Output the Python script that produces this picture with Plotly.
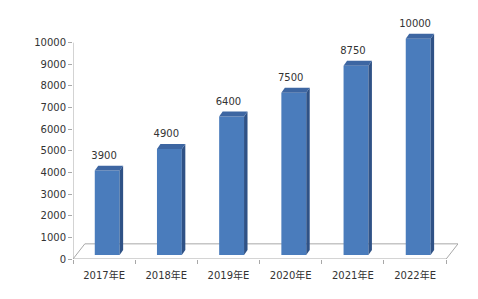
import plotly.graph_objects as go

categories = ["2017年E", "2018年E", "2019年E", "2020年E", "2021年E", "2022年E"]
values = [3900, 4900, 6400, 7500, 8750, 10000]
y_ticks = [0, 1000, 2000, 3000, 4000, 5000, 6000, 7000, 8000, 9000, 10000]

FRONT = "#4A7CBC"
TOP = "#3D66A2"
SIDE = "#2F5286"
GRID = "#A8A8A8"
TXT = "#333333"

# geometry (data units)
bar_w = 0.40
shift = 0.05
base = 185
dx = 0.056
dy = 230
floor_dx = 0.19
floor_dy = 700

xs = list(range(len(categories)))
n = len(categories)
fig = go.Figure()

# floor
fig.add_shape(type="path",
              path=f"M -0.5 0 L {n-0.5} 0 L {n-0.5+floor_dx} {floor_dy} L {-0.5+floor_dx} {floor_dy} Z",
              xref="x", yref="y", line=dict(color=GRID, width=1), fillcolor="white", layer="below")
# y axis line
fig.add_shape(type="line", x0=-0.5, x1=-0.5, y0=0, y1=y_ticks[-1], xref="x", yref="y",
              line=dict(color=GRID, width=1), layer="below")

fig.add_trace(go.Bar(x=[x + shift for x in xs], y=values, base=base, width=bar_w,
                     marker=dict(color=FRONT, line=dict(width=0)), hoverinfo="skip"))

for x, v in zip(xs, values):
    l = x + shift - bar_w / 2
    r = x + shift + bar_w / 2
    top = v + base
    fig.add_trace(go.Scatter(x=[r, r + dx, r + dx, r, r], y=[base, base + dy, top + dy, top, base],
                             fill="toself", fillcolor=SIDE, mode="lines", line=dict(width=0),
                             hoverinfo="skip"))
    fig.add_trace(go.Scatter(x=[l, l + dx, r + dx, r, l], y=[top, top + dy, top + dy, top, top],
                             fill="toself", fillcolor=TOP, mode="lines", line=dict(width=0),
                             hoverinfo="skip"))

fig.add_trace(go.Scatter(x=xs, y=[v + base + dy + 430 for v in values], mode="text",
                         text=[str(v) for v in values], textposition="middle center",
                         cliponaxis=False,
                         textfont=dict(family="DejaVu Sans", size=10, color=TXT), hoverinfo="skip"))

fig.update_layout(
    width=478, height=299, margin=dict(l=73, r=20, t=21, b=40),
    paper_bgcolor="white", plot_bgcolor="white", showlegend=False,
    font=dict(family="DejaVu Sans, Noto Sans CJK SC", size=10, color=TXT),
    xaxis=dict(range=[-0.5, n - 0.5 + floor_dx], tickvals=xs, ticktext=categories, ticks="",
               showgrid=False, zeroline=False, showline=False, ticklabelstandoff=9,
               minor=dict(ticks="outside", tick0=-0.5, dtick=1, ticklen=4, tickcolor=GRID, showgrid=False),
               tickfont=dict(family="DejaVu Sans, Noto Sans CJK SC", size=10, color=TXT)),
    yaxis=dict(range=[0, 11000], tickvals=y_ticks, ticktext=[str(t) for t in y_ticks],
               ticks="outside", ticklen=4, tickcolor=GRID,
               showgrid=False, zeroline=False, showline=False,
               tickfont=dict(family="DejaVu Sans", size=10, color=TXT)),
)

fig.write_html("out.html")
